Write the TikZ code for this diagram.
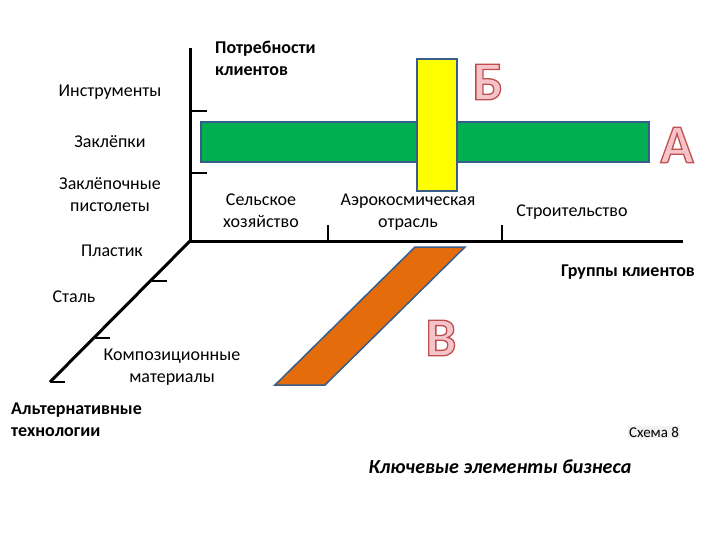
\documentclass[tikz,border=0pt]{standalone}
\usepackage{fontspec}
\setmainfont{Carlito}
\usepackage{tikz}

\definecolor{barline}{RGB}{56,93,138}
\definecolor{bargreen}{RGB}{0,176,80}
\definecolor{baryellow}{RGB}{255,255,0}
\definecolor{barorange}{RGB}{228,108,10}
\definecolor{letterfill}{RGB}{245,196,202}

\tikzset{
  lbl/.style={font=\fontsize{18}{22}\selectfont, align=center, inner sep=0pt},
  boldlbl/.style={lbl, font=\fontsize{18}{22}\selectfont\bfseries},
  axis/.style={line width=3pt},
  tick/.style={line width=2.5pt},
  bar/.style={draw=barline, line width=1.5pt},
  letterstyle/.style={font=\fontsize{55}{55}\selectfont\bfseries, inner sep=0pt, text=letterfill},
}

\newcommand\outletter[1]{%
  \special{pdf:code q 2 Tr 1.3 w 0.75 0.31 0.30 RG}#1\special{pdf:code Q}}

\begin{document}
\begin{tikzpicture}[x=1pt, y=-1pt]
\useasboundingbox (0,0) rectangle (720,540);

\coordinate (origin) at (190,241);
\coordinate (ytop) at (190,48);
\coordinate (xend) at (683,241);
\coordinate (zend) at (50,382);

\draw[axis] (ytop) -- (origin) -- (xend);
\draw[axis] (origin) -- (zend);

\draw[tick] (190,111) -- ++(17,0);
\draw[tick] (190,173) -- ++(17,0);
\draw[tick] (328,241) -- ++(0,-16);
\draw[tick] (502,241) -- ++(0,-16);
\draw[tick] (152,281) -- ++(15,0);
\draw[tick] (95,338) -- ++(15,0);
\draw[tick] (50,382) -- ++(15,0);

\draw[bar, fill=bargreen] (201,122) rectangle (649,162);
\draw[bar, fill=baryellow] (417,59) rectangle (457,191);
\draw[bar, fill=barorange] (275,385) -- (325,385) -- (465,247) -- (415,247) -- cycle;

\node[letterstyle] (letB) at (488,82) {\outletter{Б}};
\node[letterstyle] (letA) at (677,145) {\outletter{А}};
\node[letterstyle] (letV) at (441,338) {\outletter{В}};

\node[boldlbl, anchor=west, align=left] (needs) at (215,58) {Потребности\\клиентов};
\node[lbl] (tools) at (110,92) {Инструменты};
\node[lbl] (rivets) at (110,142) {Заклёпки};
\node[lbl] (guns) at (110,195) {Заклёпочные\\пистолеты};
\node[lbl] (agri) at (261,211) {Сельское\\хозяйство};
\node[lbl] (aero) at (408,212) {Аэрокосмическая\\отрасль};
\node[lbl] (build) at (572,212) {Строительство};
\node[boldlbl, anchor=east] (groups) at (695,272) {Группы клиентов};
\node[lbl] (plastic) at (112,251) {Пластик};
\node[lbl] (steel) at (74,297) {Сталь};
\node[lbl] (composite) at (172,367) {Композиционные\\материалы};
\node[boldlbl, anchor=west, align=left] (alttech) at (11,420) {Альтернативные\\технологии};
\node[lbl, font=\fontsize{15}{18}\selectfont, fill=black!5, inner sep=1pt] (scheme) at (654,432) {Схема 8};
\node[lbl, font=\fontsize{20}{24}\selectfont\bfseries\itshape] (title) at (500,467) {Ключевые элементы бизнеса};
\end{tikzpicture}
\end{document}
